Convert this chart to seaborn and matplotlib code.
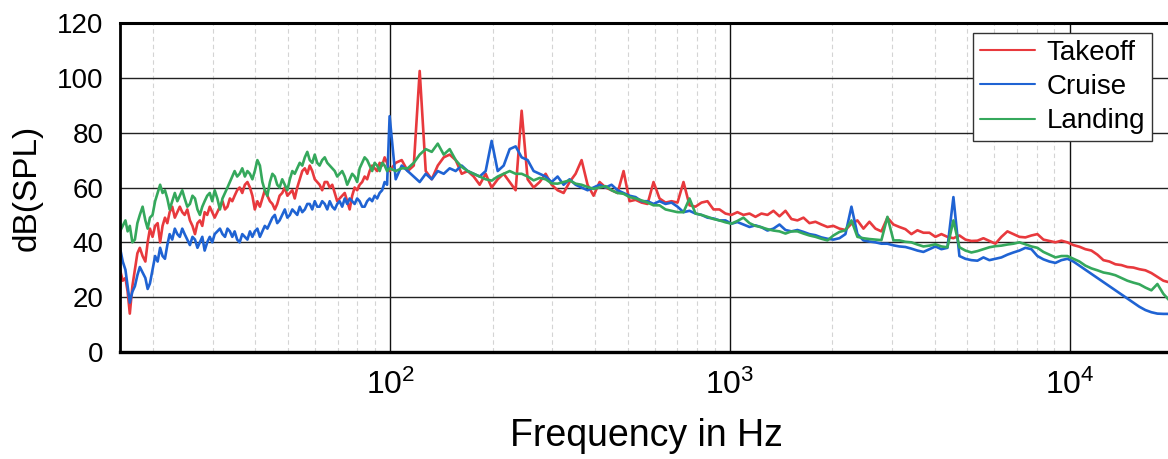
import numpy as np
import pandas as pd
import matplotlib
matplotlib.use("Agg")
import matplotlib.pyplot as plt
import seaborn as sns
from matplotlib import font_manager
from matplotlib.ticker import LogLocator, NullFormatter, FixedLocator, FixedFormatter

# ---------------- data ----------------
freq_hz = [
    16.0, 16.3, 16.6, 16.85, 17.1, 17.4, 17.7, 18.0, 18.3, 18.65,
    19.0, 19.3, 19.6, 19.95, 20.3, 20.65, 21.0, 21.35, 21.7, 22.05,
    22.4, 22.8, 23.2, 23.6, 24.0, 24.4, 24.8, 25.25, 25.7, 26.15,
    26.6, 27.05, 27.5, 27.95, 28.4, 28.9, 29.4, 29.9, 30.4, 30.95,
    31.5, 32.05, 32.6, 33.15, 33.7, 34.25, 34.8, 35.4, 36.0, 36.65,
    37.3, 37.95, 38.6, 39.25, 39.9, 40.6, 41.3, 42.0, 42.7, 43.45,
    44.2, 44.95, 45.7, 46.45, 47.2, 48.05, 48.9, 49.75, 50.6, 51.45,
    52.3, 53.2, 54.1, 55.05, 56.0, 56.95, 57.9, 58.9, 59.9, 60.9,
    61.9, 63.0, 64.1, 65.2, 66.3, 67.45, 68.6, 69.75, 70.9, 72.15,
    73.4, 74.65, 75.9, 77.2, 78.5, 79.85, 81.2, 82.6, 84.0, 85.45,
    86.9, 88.4, 89.9, 91.45, 93.0, 94.6, 96.2, 97.8, 99.5,
    103.7, 108.0, 112.5, 117.2, 122.0, 127.1, 132.4, 137.9, 143.6, 149.5,
    155.7, 162.2, 168.9, 175.9, 183.2, 190.8, 198.7, 207.0, 215.6, 224.5,
    233.8, 243.5, 253.6, 264.1, 275.1, 286.5, 298.4, 310.7, 323.6, 337.0,
    351.0, 365.6, 380.7, 396.5, 413.0, 430.1, 447.9, 466.5, 485.9, 506.0,
    527.0, 548.9, 571.6, 595.3, 620.0, 645.7, 672.5, 700.4, 729.4, 759.7,
    791.2, 824.0, 858.2, 893.8, 930.8, 969.4, 1009.5, 1051, 1095, 1141,
    1188, 1237, 1289, 1342, 1398, 1456, 1516, 1579, 1645, 1713,
    1784, 1858, 1935, 2015, 2099, 2186, 2277, 2371, 2470, 2572,
    2679, 2790, 2906, 3027, 3152, 3283, 3419, 3561, 3709, 3863,
    4023, 4190, 4364, 4545, 4734, 4930, 5135, 5348, 5570, 5801,
    6042, 6293, 6554, 6826, 7109, 7404, 7712, 8032, 8365, 8712,
    9074, 9451, 9843, 10251, 10677, 11120, 11582, 12062, 12563, 13084,
    13627, 14193, 14782, 15395, 16034, 16699, 17392, 18114, 18866, 19649,
    20465,
]

takeoff_db = [
    30, 26, 27, 22, 14, 24, 30, 36, 38, 35,
    33, 40, 45, 42, 46, 47, 40, 46, 49, 47,
    51, 53, 49, 51, 53, 51, 50, 52, 48, 46,
    43, 47, 48, 46, 51, 50, 53, 51, 49, 51,
    53, 55, 52, 53, 56, 55, 57, 59, 60, 58,
    61, 62, 60, 57, 52, 55, 53, 56, 59, 57,
    55, 54, 52, 54, 57, 58, 60, 57, 58, 59,
    56, 60, 63, 66, 67, 65, 68, 66, 63, 62,
    61, 59, 62, 62, 60, 61, 58, 55, 56, 57,
    58, 55, 52, 57, 60, 59, 61, 62, 64, 63,
    66, 68, 67, 66, 69, 68, 71, 69, 66,
    69, 70, 66, 68, 102.5, 66, 63, 68, 71, 72,
    70, 65, 66, 64, 61, 65, 60, 63, 65, 62,
    59, 88, 63, 60, 62, 65, 61, 59, 58, 62,
    65, 70, 61, 57, 62, 60, 59, 58, 66, 55,
    55.5, 54.5, 54, 62, 56, 54.5, 55, 54.5, 62, 53.5,
    53, 54.5, 55, 52, 52, 50.5, 50, 51, 50, 50.5,
    49.3, 50.5, 50, 51.5, 49.5, 51.5, 48.5, 48, 49, 47,
    47.5, 46.5, 45.6, 46, 45, 44.5, 46.8, 48, 45, 47.5,
    45, 44, 49, 46.5, 45.6, 44.8, 43, 44.4, 43.5, 43.5,
    42, 43, 42, 41.5, 42.5, 41, 40.5, 40.6, 41.5, 40.5,
    39.5, 42, 44, 43, 42, 41.8, 42.5, 43, 41, 40.5,
    40, 40.6, 40, 39, 38.4, 37.5, 37, 35.5, 33.5, 33,
    32, 31.7, 31, 30.8, 30.2, 29.8, 28.8, 27.4, 26, 25.4,
    25,
]

cruise_db = [
    38, 33, 30, 24, 18, 22, 24, 28, 31, 29,
    27, 23, 25, 30, 35, 33, 38, 35, 34, 39,
    43, 41, 45, 43, 42, 45, 43, 41, 39, 42,
    41, 38, 40, 42, 37, 40, 42, 40, 43, 44,
    45, 43, 42, 45, 44, 42, 44, 41, 40, 43,
    42, 41, 44, 42, 44, 45, 42, 44, 46, 45,
    47, 49, 50, 47, 48, 50, 52, 49, 50, 52,
    51, 50, 53, 51, 52, 54, 54, 52, 55, 53,
    53, 55, 54, 52, 55, 53, 52, 54, 55, 53,
    56, 54, 56, 55, 54, 56, 55, 53, 53, 55,
    56, 55, 57, 56, 58, 59, 62, 61, 86,
    63, 68, 66, 64, 62, 65, 63, 66, 65, 67,
    66, 68, 66, 65, 64, 66, 77, 66, 68, 74,
    75, 71, 70, 66, 65, 64, 62, 64, 61, 63,
    61, 60, 59, 60, 61, 60, 61, 59, 58, 57,
    56.5, 55, 55, 54, 55, 54, 54.5, 53, 51, 51.5,
    50.5, 50, 49, 48.7, 48, 48, 46.8, 47.4, 46.5, 45.6,
    46.2, 45.5, 44.3, 45, 46.5, 44.5, 44, 44.5, 43.8, 43,
    42.6, 41.8, 41.3, 41, 41.5, 43, 53, 43, 40.7, 40.3,
    40, 39.5, 39.5, 38.9, 38.5, 38.3, 37.7, 37, 36.5, 37.5,
    38.5, 37.5, 38, 56.5, 35, 34, 33.5, 33.3, 34.5, 33.5,
    34, 34.5, 35.5, 36.3, 37, 38, 37.5, 35, 33.8, 33,
    32.5, 33.5, 34, 33, 31.5, 30, 28.5, 27, 25.5, 24,
    22.5, 21, 19.5, 18, 16.5, 15.3, 14.5, 14, 13.9, 13.9,
    13.9,
]

landing_db = [
    44, 46, 48, 44, 46, 40, 41, 47, 50, 53,
    48, 45, 49, 50, 55, 58, 61, 58, 59, 56,
    52, 55, 58, 55, 57, 59, 56, 53, 54, 57,
    56, 52, 50, 53, 55, 57, 58, 55, 59, 56,
    52, 56, 58, 60, 62, 64, 66, 64, 65, 67,
    64, 66, 65, 63, 66, 70, 68, 62, 59, 57,
    62, 65, 64, 61, 60, 63, 61, 59, 63, 66,
    65, 67, 69, 68, 71, 73, 70, 69, 72, 69,
    68, 70, 71, 69, 68, 67, 66, 64, 65, 66,
    64, 61, 63, 65, 64, 62, 67, 69, 71, 70,
    68, 66, 69, 68, 66, 69, 68, 66, 67,
    66, 67, 67, 69, 72, 74, 73, 76, 72, 74,
    70, 67.5, 66, 65, 64, 63, 62.5, 64, 65, 66,
    65, 65, 64, 62.6, 63.5, 63, 61.5, 61.4, 62, 62.6,
    61.4, 61, 60.2, 59.5, 60, 60.5, 59, 58, 57.7, 56.5,
    56, 55.3, 54.5, 53.5, 53.5, 52, 51.5, 51, 51, 56,
    50.5, 50, 49.3, 48.5, 48, 47.3, 46.8, 47.8, 49, 47,
    46, 45.5, 44.8, 44.3, 44, 43.2, 44, 44, 43.2, 42.5,
    42, 41.3, 40.7, 42.5, 43.8, 44.4, 48, 42, 41.5, 41.2,
    41, 40.8, 49.3, 40.7, 40.7, 40.2, 40, 39.2, 38.5, 38.8,
    39.3, 38.5, 38.2, 48, 38.2, 37, 36.3, 36.8, 37.5, 38.2,
    38.6, 38.8, 39.2, 39.5, 40, 39.3, 38.5, 38, 36.5, 35.5,
    34.5, 35, 35, 34, 33, 31.5, 30.5, 29.8, 29, 28.6,
    28, 27, 26, 25.3, 24.7, 23.5, 22.5, 24.8, 21.2, 18.8,
    18.5,
]

series_names = ["Takeoff", "Cruise", "Landing"]
series_values = [takeoff_db, cruise_db, landing_db]
series_colors = ["#e8393d", "#1f63d3", "#35a85c"]

y_ticks = [0, 20, 40, 60, 80, 100, 120]
x_ticks = [100, 1000, 10000]
x_tick_labels = [r"$\mathregular{10^{2}}$", r"$\mathregular{10^{3}}$", r"$\mathregular{10^{4}}$"]
x_label = "Frequency in Hz"
y_label = "dB(SPL)"

# ---------------- style ----------------
sns.set_theme(style="white")
plt.rcParams["font.family"] = ["Liberation Sans", "DejaVu Sans"]
plt.rcParams["mathtext.default"] = "regular"
plt.rcParams["text.color"] = "black"
plt.rcParams["axes.labelcolor"] = "black"
plt.rcParams["xtick.color"] = "black"
plt.rcParams["ytick.color"] = "black"
installed = {f.name for f in font_manager.fontManager.ttflist}
narrow = "Liberation Sans Narrow" if "Liberation Sans Narrow" in installed else "Liberation Sans"

fig = plt.figure(figsize=(11.68, 4.59), dpi=100)
ax = fig.add_axes([120 / 1168, (459 - 352) / 459, (1172 - 120) / 1168, (352 - 23) / 459])

frames = []
for name, vals in zip(series_names, series_values):
    frames.append(pd.DataFrame({"freq": freq_hz, "db": vals, "phase": name}))
df = pd.concat(frames, ignore_index=True)

sns.lineplot(data=df, x="freq", y="db", hue="phase", hue_order=series_names,
             palette=series_colors, estimator=None, sort=False, linewidth=1.9, ax=ax,
             legend=True)

ax.set_xscale("log")
ax.set_xlim(16, 20000)
ax.set_ylim(0, 120)

ax.xaxis.set_major_locator(FixedLocator(x_ticks))
ax.xaxis.set_major_formatter(FixedFormatter(x_tick_labels))
ax.xaxis.set_minor_locator(LogLocator(base=10, subs=list(range(2, 10))))
ax.xaxis.set_minor_formatter(NullFormatter())
ax.set_yticks(y_ticks)

ax.set_axisbelow(True)
ax.grid(which="minor", axis="x", color="#d4d4d4", linewidth=0.8, linestyle=(0, (4, 3)))
ax.grid(which="major", axis="x", color="#111111", linewidth=1.0)
ax.grid(which="major", axis="y", color="#222222", linewidth=1.0)

for side in ["top", "bottom", "left", "right"]:
    ax.spines[side].set_color("black")
ax.spines["top"].set_linewidth(2.2)
ax.spines["bottom"].set_linewidth(2.4)
ax.spines["left"].set_linewidth(2.0)
ax.spines["right"].set_linewidth(2.0)

ax.tick_params(axis="both", which="both", length=0)
ax.tick_params(axis="y", labelsize=20, pad=12, labelcolor="black")
ax.tick_params(axis="x", labelsize=23, pad=13, labelcolor="black")
for lab in ax.get_xticklabels():
    lab.set_fontfamily(narrow)

ax.set_xlabel(x_label, fontsize=27, fontfamily=narrow, labelpad=12, color="black")
ax.set_ylabel(y_label, fontsize=24, labelpad=10, color="black")

handles, labels = ax.get_legend_handles_labels()
leg = ax.legend(handles, labels, loc="upper right", bbox_to_anchor=(0.981, 0.970),
                fontsize=20, frameon=True, fancybox=False, framealpha=1,
                edgecolor="#333333", borderpad=0.25, labelspacing=0.3,
                handlelength=2.0, handletextpad=0.4, borderaxespad=0)
leg.get_frame().set_linewidth(1.0)
for line in leg.get_lines():
    line.set_linewidth(1.5)
for txt in leg.get_texts():
    txt.set_color("black")

fig.savefig("out.png", dpi=100)
